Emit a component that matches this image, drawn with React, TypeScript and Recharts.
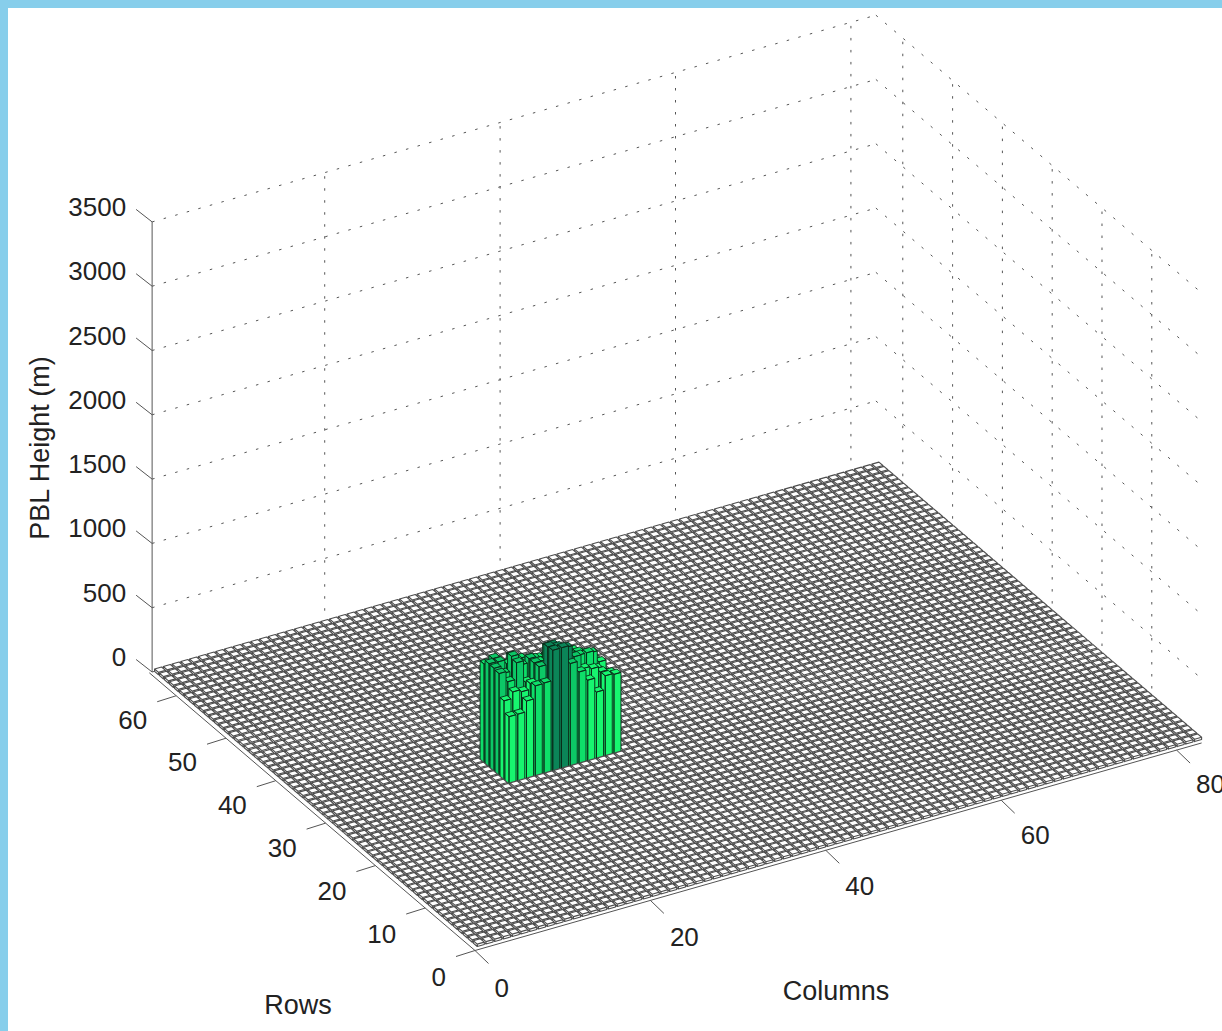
import React from "react";
import { ScatterChart, Scatter, XAxis, YAxis } from "recharts";

const columnCount = 83;
const rowCount = 65;
const floorHeight = 18;
const towerColumns = [20, 21, 22, 23, 24, 25, 26, 27, 28, 29, 30, 31, 32];
const towerRows = [33, 32, 31, 30, 29, 28];
const row33 = [770, 793, 710, 772, 735, 715, 700, 700, 690, 680, 680, 640, 600];
const row32 = [805, 800, 767, 775, 728, 748, 700, 700, 700, 690, 700, 660, 600];
const row31 = [803, 743, 857, 770, 800, 756, 852, 760, 750, 720, 710, 710, 620];
const row30 = [795, 712, 840, 671, 800, 761, 899, 826, 782, 762, 762, 619, 562];
const row29 = [616, 666, 648, 692, 803, 938, 920, 894, 803, 692, 671, 627, 600];
const row28 = [526, 526, 609, 707, 710, 945, 945, 803, 718, 635, 523, 630, 622];
const towerHeights = [row33, row32, row31, row30, row29, row28];

const zTicks = [0, 500, 1000, 1500, 2000, 2500, 3000, 3500];
const rowTicks = [0, 10, 20, 30, 40, 50, 60];
const columnTicks = [0, 20, 40, 60, 80];

// projection of the 3-D box onto the page
const O = [475, 950.5];
const EC = [8.77, -2.505];
const ER = [-4.98, -4.246];
const EZ = -0.1286;
const C_MIN = 0.32;
const C_MAX = 82.85;
const R_MAX = 65.4;
const HALF = 0.4;
const BAR_C_SCALE = 0.9975;

const project = (c: number, r: number, z: number) => ({
  x: O[0] + c * EC[0] + r * ER[0],
  y: O[1] + c * EC[1] + r * ER[1] + z * EZ,
});

const towerLookup = new Map<string, number>();
towerRows.forEach((r, i) => towerColumns.forEach((c, j) => towerLookup.set(`${c}:${r}`, towerHeights[i][j])));

const colorFor = (h: number) => {
  if (h <= floorHeight) return "#ffffff";
  if (h >= 880) return "#0b8558";
  if (h >= 790) return "#0cc866";
  if (h >= 700) return "#0ede69";
  return "#17f56f";
};

type Bar = { x: number; y: number; c: number; r: number; h: number };
const bars: Bar[] = [];
for (let r = rowCount; r >= 1; r--) {
  for (let c = columnCount; c >= 1; c--) {
    const h = towerLookup.get(`${c}:${r}`) ?? floorHeight;
    const cc = c * BAR_C_SCALE;
    bars.push({ ...project(cc, r, 0), c: cc, r, h });
  }
}

const barPath = (b: Bar, cx: number, cy: number) => {
  const pt = (dc: number, dr: number, z: number) => {
    const x = cx + dc * EC[0] + dr * ER[0];
    const y = cy + dc * EC[1] + dr * ER[1] + z * EZ;
    return `${x.toFixed(2)} ${y.toFixed(2)}`;
  };
  const a = -HALF;
  const d = HALF;
  const left = `M${pt(a, d, 0)}L${pt(a, a, 0)}L${pt(a, a, b.h)}L${pt(a, d, b.h)}Z`;
  const front = `M${pt(a, a, 0)}L${pt(d, a, 0)}L${pt(d, a, b.h)}L${pt(a, a, b.h)}Z`;
  const top = `M${pt(a, a, b.h)}L${pt(d, a, b.h)}L${pt(d, d, b.h)}L${pt(a, d, b.h)}Z`;
  return left + front + top;
};

const BarShape = (props: any) => {
  const b: Bar = props.payload;
  const floor = b.h <= floorHeight;
  return (
    <path
      d={barPath(b, props.cx, props.cy)}
      fill={colorFor(b.h)}
      stroke={floor ? "#4d4d4d" : "#0a2a18"}
      strokeWidth={floor ? 1.12 : 0.9}
      strokeLinejoin="round"
    />
  );
};

type Seg = { a: { x: number; y: number }; b: { x: number; y: number } };
const seg = (c1: number, r1: number, z1: number, c2: number, r2: number, z2: number): Seg => ({
  a: project(c1, r1, z1),
  b: project(c2, r2, z2),
});
const shift = (p: { x: number; y: number }, dx: number, dy: number) => ({ x: p.x + dx, y: p.y + dy });

const gridSegs: Seg[] = [
  ...zTicks.flatMap((z) => [seg(C_MIN, R_MAX, z, C_MAX, R_MAX, z), seg(C_MAX, R_MAX, z, C_MAX, 0, z)]),
  ...columnTicks.filter((c) => c > 0).map((c) => seg(c, R_MAX, 0, c, R_MAX, 3500)),
  ...rowTicks.filter((r) => r > 0).map((r) => seg(C_MAX, r, 0, C_MAX, r, 3500)),
];

const zTickSegs: Seg[] = zTicks.map((z) => {
  const p = project(C_MIN, R_MAX, z);
  return { a: p, b: shift(p, -16, -12.5) };
});
const rowTickSegs: Seg[] = rowTicks.map((r) => {
  const p = project(0, r, 0);
  return { a: p, b: shift(p, -19, 6) };
});
const colTickSegs: Seg[] = columnTicks.map((c) => {
  const p = project(c, 0, 0);
  return { a: p, b: shift(p, 13.5, 13) };
});
const axisSegs: Seg[] = [
  seg(C_MIN, R_MAX, 0, C_MIN, R_MAX, 3500),
  seg(0, 0, 0, C_MAX, 0, 0),
  seg(0, 0, 0, 0, R_MAX, 0),
];

type Lab = { x: number; y: number; text: string; anchor: string; size: number; rotate?: number };
const labels: Lab[] = [
  ...zTicks.map((z) => {
    const p = project(C_MIN, R_MAX, z);
    return { ...shift(p, -26, -15), text: String(z), anchor: "end", size: 26 };
  }),
  ...rowTicks.map((r) => {
    const p = project(0, r, 0);
    return { ...shift(p, -29, 26.5 - r * 0.045), text: String(r), anchor: "end", size: 26 };
  }),
  ...columnTicks.map((c) => {
    const p = project(c, 0, 0);
    return { ...shift(p, 19.5, 37 - c * 0.035), text: String(c), anchor: "start", size: 26 };
  }),
  { x: 298, y: 1005, text: "Rows", anchor: "middle", size: 27 },
  { x: 836, y: 991, text: "Columns", anchor: "middle", size: 27 },
  { x: 40, y: 448, text: "PBL Height (m)", anchor: "middle", size: 27, rotate: -90 },
];

const LabelShape = (props: any) => {
  const l: Lab = props.payload;
  return (
    <text
      x={props.cx}
      y={props.cy}
      textAnchor={l.anchor as any}
      dominantBaseline="central"
      fontFamily="'Liberation Sans', Arial, sans-serif"
      fontSize={l.size}
      fill="#222222"
      transform={l.rotate ? `rotate(${l.rotate} ${props.cx} ${props.cy})` : undefined}
    >
      {l.text}
    </text>
  );
};

const Nothing = () => <g />;

const lineScatter = (s: Seg, key: string, stroke: string, dash?: string, width = 1) => (
  <Scatter
    key={key}
    data={[s.a, s.b]}
    line={{ stroke, strokeWidth: width, strokeDasharray: dash }}
    shape={Nothing}
    isAnimationActive={false}
    legendType="none"
  />
);

export default function App() {
  return (
    <>
      <style>{`html{overflow:hidden}body{margin:8px 0 0 8px;background:#87ceeb}`}</style>
      <div style={{ width: 1214, height: 1023, background: "#ffffff" }}>
        <ScatterChart width={1214} height={1023} margin={{ top: 0, right: 0, bottom: 0, left: 0 }} style={{ display: "block" }}>
          <XAxis type="number" dataKey="x" domain={[8, 1222]} hide allowDataOverflow />
          <YAxis type="number" dataKey="y" domain={[8, 1031]} reversed hide allowDataOverflow />
          {gridSegs.map((s, i) => lineScatter(s, `g${i}`, "#555555", "2.5 9.5"))}
          {axisSegs.map((s, i) => lineScatter(s, `a${i}`, "#555555"))}
          {zTickSegs.map((s, i) => lineScatter(s, `z${i}`, "#555555"))}
          {rowTickSegs.map((s, i) => lineScatter(s, `r${i}`, "#555555"))}
          {colTickSegs.map((s, i) => lineScatter(s, `c${i}`, "#555555"))}
          <Scatter data={bars} shape={BarShape} isAnimationActive={false} />
          <Scatter data={labels} shape={LabelShape} isAnimationActive={false} />
        </ScatterChart>
      </div>
    </>
  );
}
